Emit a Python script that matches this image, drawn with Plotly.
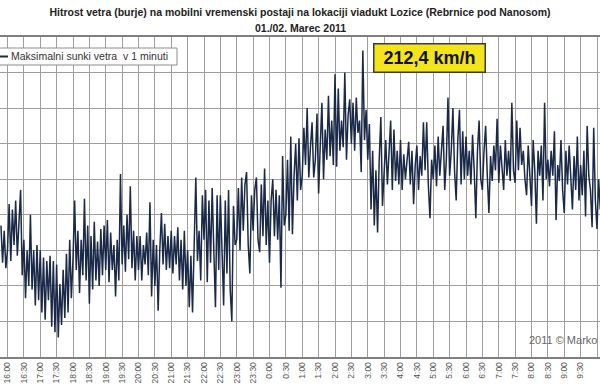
import pandas as pd
import plotly.graph_objects as go

# ---------------- data ----------------
title_line1 = "Hitrost vetra (burje) na mobilni vremenski postaji na lokaciji viadukt Lozice (Rebrnice pod Nanosom)"
title_line2 = "01./02. Marec 2011"
series_name = "Maksimalni sunki vetra  v 1 minuti"
peak_label = "212,4 km/h"
credit = "2011 © Marko"

start_time = "2011-03-01 15:48"
step = "3min"

# maximum wind gust (km/h), every 3 minutes
gust_kmh = [
    114, 93, 111, 90,
    100, 126, 94, 123, 103, 128, 97, 120, 134, 86,
    106, 73, 100, 80, 120, 78, 100, 69, 103, 72,
    100, 65, 96, 61, 94, 72, 97, 57, 94, 54,
    92, 51, 81, 58, 89, 62, 98, 65, 106, 73,
    95, 128, 89, 111, 76, 106, 86, 129, 83, 114,
    70, 108, 78, 116, 83, 105, 80, 112, 86, 114,
    89, 117, 82, 110, 89, 103, 74, 106, 83, 143,
    92, 114, 88, 120, 95, 136, 90, 111, 83, 108,
    89, 108, 83, 103, 92, 110, 86, 127, 74, 106,
    80, 103, 66, 100, 121, 92, 115, 89, 108, 90,
    111, 87, 108, 92, 113, 83, 106, 78, 111, 80,
    100, 68, 97, 65, 106, 141, 94, 111, 83, 131,
    106, 134, 82, 128, 93, 135, 100, 68, 131, 89,
    131, 92, 69, 128, 87, 134, 78, 60, 125, 103,
    106, 135, 100, 141, 111, 137, 144, 103, 87, 131,
    111, 134, 141, 106, 99, 137, 108, 146, 103, 128,
    93, 128, 140, 108, 134, 106, 131, 79, 153, 114,
    120, 151, 111, 164, 109, 142, 160, 128, 163, 134,
    142, 169, 148, 180, 141, 158, 172, 141, 151, 177,
    132, 159, 183, 140, 168, 151, 187, 153, 173, 148,
    199, 147, 191, 156, 173, 158, 200, 151, 176, 185,
    160, 183, 156, 186, 166, 173, 144, 212.4, 162, 179,
    151, 171, 123, 156, 114, 145, 110, 151, 175, 125,
    142, 162, 137, 156, 173, 134, 168, 139, 156, 137,
    162, 134, 154, 140, 151, 161, 137, 156, 126, 148,
    159, 134, 153, 142, 172, 145, 172, 137, 118, 151,
    140, 159, 136, 164, 142, 156, 170, 134, 151, 186,
    142, 156, 180, 145, 128, 162, 179, 137, 167, 140,
    164, 142, 156, 137, 165, 145, 118, 156, 173, 140,
    134, 156, 170, 142, 121, 153, 139, 159, 145, 174,
    138, 159, 148, 134, 162, 142, 156, 139, 183, 145,
    138, 173, 145, 169, 148, 156, 140, 131, 159, 142,
    125, 162, 145, 115, 156, 142, 159, 128, 183, 140,
    151, 136, 156, 142, 167, 117, 148, 139, 162, 134,
    121, 156, 137, 159, 142, 123, 153, 134, 164, 128,
    148, 131, 156, 119, 170, 142, 134, 113, 169, 128,
    112, 140, 123,
]

x_range = ["2011-03-01 15:46:16", "2011-03-02 10:05:30"]
y_range = [40, 220]

times = pd.date_range(start_time, periods=len(gust_kmh), freq=step)

# ---------------- figure ----------------
W, H = 600, 390
M_T, M_B = 37, 33
PH = H - M_T - M_B

def py(px):  # pixel y (from top) -> paper y
    return (H - M_B - px) / PH

def pxx(px):  # pixel x -> paper x
    return px / W

LINE = "#1b2948"
GRID = "#9e9e9e"
FONT = "Liberation Sans, Arial, sans-serif"

fig = go.Figure()
fig.add_trace(go.Scatter(
    x=times, y=gust_kmh, mode="lines", name=series_name,
    line=dict(color=LINE, width=1.5), showlegend=False,
))

fig.update_layout(
    width=W, height=H,
    margin=dict(l=0, r=0, t=M_T, b=M_B),
    paper_bgcolor="white", plot_bgcolor="white",
    font=dict(family=FONT, color="#333"),
    title=dict(text="<b>" + title_line1 + "</b>", x=0.5, xanchor="center",
               y=1 - 12 / H, yanchor="middle", yref="container",
               font=dict(size=10.5, color="#222", family=FONT)),
    xaxis=dict(
        type="date", range=x_range,
        tick0="2011-03-01 16:00", dtick=30 * 60 * 1000,
        tickformat="%-H:%M", tickangle=-90,
        tickfont=dict(size=8.5, color="#555"),
        showgrid=True, gridcolor=GRID, gridwidth=1.3,
        showline=True, linecolor="#808080", linewidth=1.5, mirror=True,
        ticks="", zeroline=False,
    ),
    yaxis=dict(
        range=y_range, dtick=20, tick0=40,
        showticklabels=False, showgrid=True, gridcolor=GRID, gridwidth=1.3,
        showline=False, zeroline=False, ticks="",
    ),
)

# second title line
fig.add_annotation(text="<b>" + title_line2 + "</b>", xref="paper", yref="paper",
                   x=0.5, y=py(28), xanchor="center", yanchor="middle",
                   showarrow=False, font=dict(size=10.5, color="#222", family=FONT))

# legend box (drawn at the top-left, partly cut off like the original)
fig.add_shape(type="rect", xref="paper", yref="paper",
              x0=pxx(-4), x1=pxx(177), y0=py(65), y1=py(48),
              line=dict(color="#8c8c8c", width=1), fillcolor="white", layer="above")
fig.add_shape(type="line", xref="paper", yref="paper",
              x0=pxx(0), x1=pxx(8), y0=py(56.5), y1=py(56.5),
              line=dict(color=LINE, width=2), layer="above")
fig.add_annotation(text=series_name, xref="paper", yref="paper",
                   x=pxx(9), y=py(56.5), xanchor="left", yanchor="middle",
                   showarrow=False, font=dict(size=10.5, color="#333", family=FONT))

# peak label
fig.add_annotation(text="<b>" + peak_label + "</b>", xref="paper", yref="paper",
                   x=pxx(429), y=py(58.5), xanchor="center", yanchor="middle",
                   showarrow=False, width=108, height=25, borderpad=1,
                   bgcolor="#f4e41c", bordercolor="#3a3a3a", borderwidth=1.5,
                   font=dict(size=18, color="#111", family=FONT))

# credit
fig.add_annotation(text=credit, xref="paper", yref="paper",
                   x=pxx(527), y=py(340), xanchor="left", yanchor="middle",
                   showarrow=False, font=dict(size=11, color="#666", family=FONT))

fig.write_html("out.html")
